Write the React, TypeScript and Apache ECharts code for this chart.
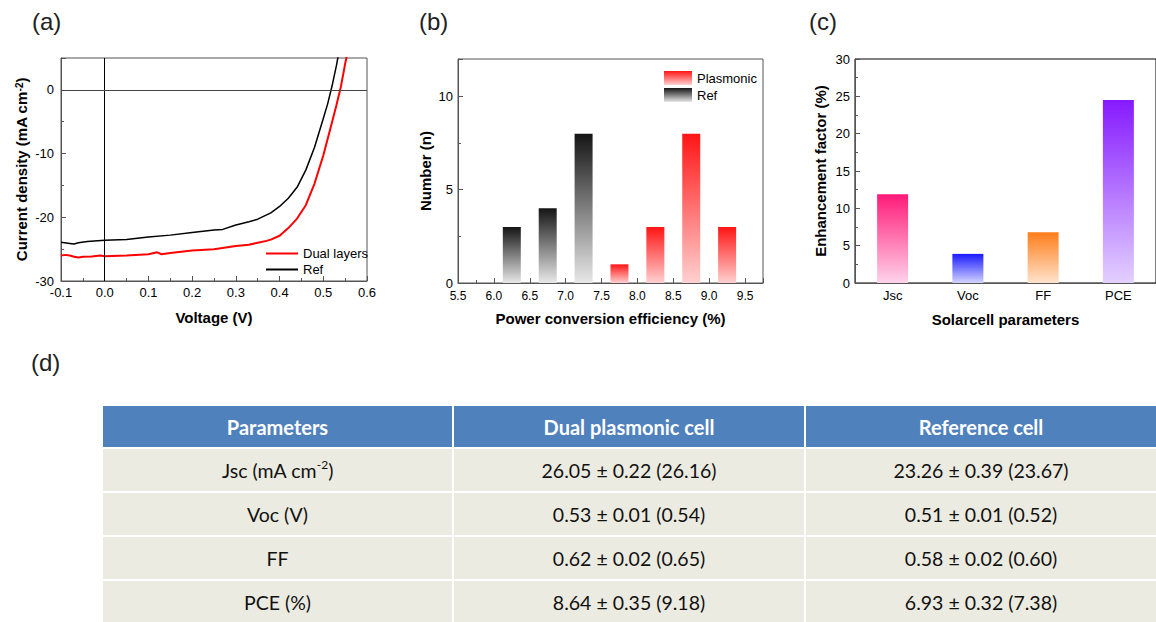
import React, { useEffect, useRef } from "react";
import * as echarts from "echarts";

// ---------- (a) J-V curves ----------
const dualVoltage = [-0.1, -0.09, -0.08, -0.07, -0.06, -0.05, -0.03, -0.01, 0, 0.05, 0.1, 0.12, 0.13, 0.15, 0.2, 0.25, 0.3, 0.33, 0.35, 0.37, 0.38, 0.4, 0.42, 0.44, 0.46, 0.48, 0.5, 0.52, 0.53, 0.54, 0.55, 0.556];
const dualCurrent = [-26.0, -25.9, -26.0, -26.2, -26.3, -26.2, -26.15, -26.0, -26.1, -26.0, -25.8, -25.5, -25.8, -25.6, -25.2, -25.0, -24.5, -24.3, -24.0, -23.7, -23.5, -22.9, -21.7, -20.2, -18.1, -14.7, -10.3, -5.1, -2.4, 0.4, 4.1, 6.0];
const refVoltage = [-0.1, -0.08, -0.07, -0.06, -0.04, 0, 0.05, 0.1, 0.15, 0.2, 0.25, 0.27, 0.3, 0.33, 0.35, 0.38, 0.4, 0.42, 0.44, 0.46, 0.48, 0.5, 0.51, 0.52, 0.53, 0.536];
const refCurrent = [-23.9, -24.1, -24.2, -24.0, -23.8, -23.6, -23.5, -23.1, -22.8, -22.4, -22.0, -21.9, -21.2, -20.7, -20.3, -19.3, -18.3, -17.0, -15.3, -12.6, -9.0, -4.5, -2.2, 0.6, 3.8, 6.0];

// ---------- (b) PCE histogram ----------
const refPceBins = [6.25, 6.75, 7.25];
const refPceCounts = [3, 4, 8];
const plasmonicPceBins = [7.75, 8.25, 8.75, 9.25];
const plasmonicPceCounts = [1, 3, 8, 3];

// ---------- (c) enhancement factors ----------
const enhancementParams = ["Jsc", "Voc", "FF", "PCE"];
const enhancementValues = [11.9, 3.9, 6.8, 24.5];

// ---------- (d) table ----------
const tableHeader = ["Parameters", "Dual plasmonic cell", "Reference cell"];
const tableParams = ["Jsc (mA cm^-2)", "Voc (V)", "FF", "PCE (%)"];
const tableDual = ["26.05 ± 0.22 (26.16)", "0.53 ± 0.01 (0.54)", "0.62 ± 0.02 (0.65)", "8.64 ± 0.35 (9.18)"];
const tableRef = ["23.26 ± 0.39 (23.67)", "0.51 ± 0.01 (0.52)", "0.58 ± 0.02 (0.60)", "6.93 ± 0.32 (7.38)"];

const FONT = "Liberation Sans, Arial, Helvetica, sans-serif";
const TFONT = "Lato, Open Sans, sans-serif";

const vgrad = (top: string, bottom: string) =>
  new echarts.graphic.LinearGradient(0, 0, 0, 1, [
    { offset: 0, color: top },
    { offset: 1, color: bottom },
  ]);

const enhancementColors = [
  ["#ff1a78", "#ffd3ea"],
  ["#1a1aff", "#d3d3ff"],
  ["#ff7d1a", "#ffe3cc"],
  ["#861aff", "#e3d0ff"],
];

const LBL = { color: "#000", fontSize: 13, fontFamily: FONT };

const axisCommon = (extra: any = {}) => ({
  axisLine: { show: true, onZero: false, lineStyle: { color: "#555", width: 1 } },
  axisTick: { show: true, inside: true, length: 5, lineStyle: { color: "#555" } },
  minorTick: { show: true, splitNumber: 2, length: 3, lineStyle: { color: "#555" } },
  splitLine: { show: false },
  axisLabel: { ...LBL },
  nameTextStyle: { color: "#000", fontSize: 15, fontWeight: "bold", fontFamily: FONT },
  ...extra,
});

function buildTable() {
  const colLeft = [103, 454, 806];
  const colRight = [452, 804, 1156];
  const rowTop = [406, 449, 493, 537, 581];
  const rowH = [41, 42, 42, 42, 42];
  const els: any[] = [];
  const rows = [tableHeader].concat(
    tableParams.map((p, i) => [p, tableDual[i], tableRef[i]])
  );
  rows.forEach((row, r) => {
    row.forEach((cell, c) => {
      els.push({
        type: "rect",
        shape: { x: colLeft[c], y: rowTop[r], width: colRight[c] - colLeft[c], height: rowH[r] },
        style: { fill: r === 0 ? "#4f81bd" : "#ecebe1" },
        silent: true,
      });
      const isHeader = r === 0;
      let text = cell;
      if (cell.indexOf("^") >= 0) {
        const [a, b] = cell.split("^");
        const m = b.match(/^(-?\d+)(.*)$/);
        text = `{n|${a}}{s|${m ? m[1] : ""}}{n|${m ? m[2] : b}}`;
      } else {
        text = `{n|${cell}}`;
      }
      els.push({
        type: "text",
        x: (colLeft[c] + colRight[c]) / 2,
        y: rowTop[r] + rowH[r] / 2,
        silent: true,
        style: {
          text,
          align: "center",
          verticalAlign: "middle",
          rich: {
            n: {
              fontSize: isHeader ? 20 : 19.5,
              fontFamily: TFONT,
              fontWeight: isHeader ? "bold" : "normal",
              fill: isHeader ? "#fff" : "#111",
              lineHeight: 24,
            },
            s: {
              fontSize: 12,
              fontFamily: TFONT,
              fill: "#111",
              verticalAlign: "top",
              lineHeight: 13,
            },
          },
        },
      });
    });
  });
  return els;
}

export default function App() {
  const ref = useRef<HTMLDivElement>(null);
  useEffect(() => {
    if (!ref.current) return;
    const chart = echarts.init(ref.current, null, { renderer: "svg" });
    const letter = (t: string, x: number, y: number) => ({
      type: "text",
      x,
      y,
      style: { text: t, fontSize: 24, fontFamily: FONT, fill: "#222" },
    });
    const option: any = {
      animation: false,
      backgroundColor: "#fff",
      textStyle: { fontFamily: FONT },
      grid: [
        { left: 61, top: 58, width: 306, height: 223, show: true, borderColor: "#555", borderWidth: 1 },
        { left: 458, top: 59, width: 305, height: 224, show: true, borderColor: "#555", borderWidth: 1 },
        { left: 855, top: 59, width: 304, height: 224, show: true, borderColor: "#000", borderWidth: 1 },
      ],
      xAxis: [
        axisCommon({
          gridIndex: 0,
          type: "value",
          min: -0.1,
          max: 0.6,
          interval: 0.1,
          name: "Voltage (V)",
          nameLocation: "middle",
          nameGap: 29,
          axisLabel: { ...LBL, margin: 5, formatter: (v: number) => v.toFixed(1) },
        }),
        axisCommon({
          gridIndex: 1,
          type: "value",
          min: 5.5,
          max: 9.75,
          interval: 0.5,
          name: "Power conversion efficiency (%)",
          nameLocation: "middle",
          nameGap: 28,
          axisLabel: { ...LBL, fontSize: 12, margin: 7, showMaxLabel: false, formatter: (v: number) => v.toFixed(1) },
        }),
        axisCommon({
          gridIndex: 2,
          type: "category",
          data: enhancementParams,
          name: "Solarcell parameters",
          nameLocation: "middle",
          nameGap: 29,
          axisTick: { show: true, inside: true, length: 5, alignWithLabel: true, lineStyle: { color: "#555" } },
          minorTick: { show: false },
          axisLabel: { ...LBL, margin: 6 },
        }),
      ],
      yAxis: [
        axisCommon({
          gridIndex: 0,
          type: "value",
          min: -30,
          max: 5,
          interval: 10,
          name: "{b|Current density (mA cm}{s|-2}{b|)}",
          nameLocation: "middle",
          nameGap: 32,
          nameTextStyle: {
            rich: {
              b: { fontSize: 15, fontWeight: "bold", fontFamily: FONT, color: "#000" },
              s: { fontSize: 10, fontWeight: "bold", fontFamily: FONT, color: "#000", verticalAlign: "top" },
            },
          },
          axisLabel: { ...LBL, margin: 7, showMaxLabel: false },
        }),
        axisCommon({
          gridIndex: 1,
          type: "value",
          min: 0,
          max: 12,
          interval: 5,
          name: "Number (n)",
          nameLocation: "middle",
          nameGap: 25,
          axisLabel: { ...LBL, margin: 5, showMaxLabel: false },
        }),
        axisCommon({
          gridIndex: 2,
          type: "value",
          min: 0,
          max: 30,
          interval: 5,
          name: "Enhancement factor (%)",
          nameLocation: "middle",
          nameGap: 27,
          axisLabel: { ...LBL, margin: 5 },
        }),
      ],
      legend: [
        {
          data: ["Dual layers", "Ref"],
          left: 261,
          top: 242,
          orient: "vertical",
          icon: "rect",
          itemWidth: 32,
          itemHeight: 2,
          itemGap: 3,
          textStyle: { fontSize: 13, fontFamily: FONT, color: "#000" },
        },
        {
          data: ["Plasmonic", "Ref PCE"],
          left: 659,
          top: 66,
          orient: "vertical",
          icon: "rect",
          itemWidth: 28,
          itemHeight: 14,
          itemGap: 3,
          formatter: (n: string) => (n === "Ref PCE" ? "Ref" : n),
          textStyle: { fontSize: 13, fontFamily: FONT, color: "#000" },
        },
      ],
      series: [
        {
          name: "Dual layers",
          type: "line",
          xAxisIndex: 0,
          yAxisIndex: 0,
          data: dualVoltage.map((v, i) => [v, dualCurrent[i]]),
          showSymbol: false,
          symbol: "none",
          lineStyle: { color: "#ff0000", width: 2 },
          itemStyle: { color: "#ff0000" },
          z: 3,
        },
        {
          name: "Ref",
          type: "line",
          xAxisIndex: 0,
          yAxisIndex: 0,
          data: refVoltage.map((v, i) => [v, refCurrent[i]]),
          showSymbol: false,
          symbol: "none",
          lineStyle: { color: "#000", width: 1.5 },
          itemStyle: { color: "#000" },
          z: 3,
          markLine: {
            silent: true,
            symbol: "none",
            label: { show: false },
            data: [
              { xAxis: 0, lineStyle: { color: "#000", width: 1, type: "solid" } },
              { yAxis: 0, lineStyle: { color: "#444", width: 1, type: "solid" } },
            ],
          },
        },
        {
          name: "Ref PCE",
          type: "bar",
          xAxisIndex: 1,
          yAxisIndex: 1,
          barWidth: 18,
          barGap: "-100%",
          data: refPceBins.map((b, i) => [b, refPceCounts[i]]),
          itemStyle: { color: vgrad("#151515", "#e8e8e8") },
        },
        {
          name: "Plasmonic",
          type: "bar",
          xAxisIndex: 1,
          yAxisIndex: 1,
          barWidth: 18,
          barGap: "-100%",
          data: plasmonicPceBins.map((b, i) => [b, plasmonicPceCounts[i]]),
          itemStyle: { color: vgrad("#ff1515", "#ffd0d0") },
        },
        {
          name: "Enhancement",
          type: "bar",
          xAxisIndex: 2,
          yAxisIndex: 2,
          barWidth: 31,
          data: enhancementValues.map((v, i) => ({
            value: v,
            itemStyle: { color: vgrad(enhancementColors[i][0], enhancementColors[i][1]) },
          })),
        },
      ],
      graphic: [
        letter("(a)", 32, 9),
        letter("(b)", 419, 9),
        letter("(c)", 809, 9),
        letter("(d)", 31, 350),
        ...buildTable(),
      ],
    };
    chart.setOption(option);
    return () => chart.dispose();
  }, []);
  return (
    <div
      ref={ref}
      style={{ position: "absolute", left: 0, top: 0, width: 1156, height: 622, background: "#fff" }}
    />
  );
}
